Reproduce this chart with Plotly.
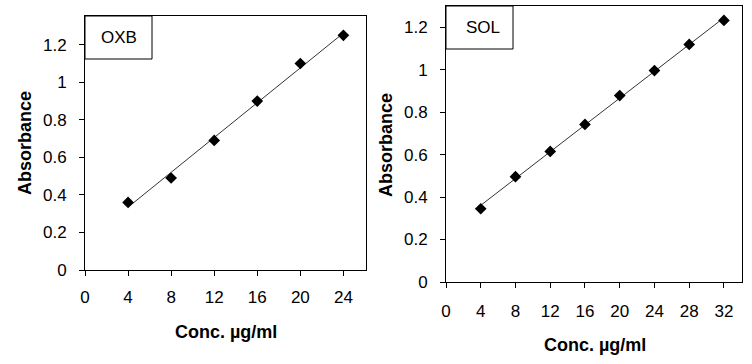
import numpy as np
import plotly.graph_objects as go

W, H = 752, 364

# ---- data ----
oxb_conc = [4, 8, 12, 16, 20, 24]
oxb_abs = [0.36, 0.49, 0.69, 0.90, 1.10, 1.25]
sol_conc = [4, 8, 12, 16, 20, 24, 28, 32]
sol_abs = [0.345, 0.496, 0.615, 0.742, 0.878, 0.996, 1.119, 1.232]

oxb_xticks = [0, 4, 8, 12, 16, 20, 24]
sol_xticks = [0, 4, 8, 12, 16, 20, 24, 28, 32]
oxb_yticks = [0, 0.2, 0.4, 0.6, 0.8, 1.0, 1.2]
sol_yticks = [0, 0.2, 0.4, 0.6, 0.8, 1.0, 1.2]
ytick_text = ["0", "0.2", "0.4", "0.6", "0.8", "1", "1.2"]

panel_names = ["OXB", "SOL"]
x_title = "Conc. µg/ml"
y_title = "Absorbance"

FONT = "Liberation Sans, Arial, sans-serif"

def px(x):
    return x / W

def py(y):
    return 1 - y / H

fig = go.Figure()

def add_panel(xs, ys, xa, ya):
    m, b = np.polyfit(xs, ys, 1)
    xl = [min(xs), max(xs)]
    fig.add_trace(go.Scatter(x=xl, y=[m * v + b for v in xl], mode="lines",
                             line=dict(color="#333333", width=1),
                             xaxis=xa, yaxis=ya, showlegend=False, hoverinfo="skip"))
    fig.add_trace(go.Scatter(x=xs, y=ys, mode="markers",
                             marker=dict(symbol="diamond", size=9, color="black"),
                             xaxis=xa, yaxis=ya, showlegend=False))

add_panel(oxb_conc, oxb_abs, "x", "y")
add_panel(sol_conc, sol_abs, "x2", "y2")

axis_common = dict(showline=True, linecolor="black", linewidth=1, mirror=True,
                   ticks="outside", ticklen=5, tickcolor="black", showgrid=False,
                   zeroline=False, automargin=False,
                   tickfont=dict(family=FONT, size=17, color="black"))

L = dict(x0=85, x1=366, y0=16, y1=270)
R = dict(x0=446, x1=742, y0=6, y1=282)

fig.update_layout(
    template="none",
    width=W, height=H, margin=dict(l=0, r=0, t=0, b=0),
    plot_bgcolor="white", paper_bgcolor="white",
    xaxis=dict(domain=[px(L["x0"]), px(L["x1"])], range=[0, 26.1],
               tickvals=oxb_xticks, ticklabelstandoff=7, anchor="y", **axis_common),
    yaxis=dict(domain=[py(L["y1"]), py(L["y0"])], range=[0, 1.353],
               tickvals=oxb_yticks, ticktext=ytick_text, ticklabelstandoff=9,
               anchor="x", **axis_common),
    xaxis2=dict(domain=[px(R["x0"]), px(R["x1"])], range=[0, 34.08],
                tickvals=sol_xticks, ticklabelstandoff=9, anchor="y2", **axis_common),
    yaxis2=dict(domain=[py(R["y1"]), py(R["y0"])], range=[0, 1.30],
                tickvals=sol_yticks, ticktext=ytick_text, ticklabelstandoff=9,
                anchor="x2", **axis_common),
)

# label boxes
fig.add_shape(type="rect", xref="paper", yref="paper",
              x0=px(85), x1=px(152), y0=py(59), y1=py(16),
              line=dict(color="black", width=1), fillcolor="white")
fig.add_shape(type="rect", xref="paper", yref="paper",
              x0=px(446), x1=px(513), y0=py(49), y1=py(6),
              line=dict(color="black", width=1), fillcolor="white")

ann = []
ann.append(dict(text=panel_names[0], x=px(119), y=py(38)))
ann.append(dict(text=panel_names[1], x=px(483), y=py(28)))
for a in ann:
    a.update(xref="paper", yref="paper", showarrow=False, xanchor="center", yanchor="middle",
             font=dict(family=FONT, size=17, color="black"))
titles = [
    dict(text="<b>%s</b>" % x_title, x=px(226), y=py(332), textangle=0),
    dict(text="<b>%s</b>" % x_title, x=px(595), y=py(345), textangle=0),
    dict(text="<b>%s</b>" % y_title, x=px(25), y=py(143), textangle=-90),
    dict(text="<b>%s</b>" % y_title, x=px(386), y=py(145), textangle=-90),
]
for t in titles:
    t.update(xref="paper", yref="paper", showarrow=False, xanchor="center", yanchor="middle",
             font=dict(family=FONT, size=18, color="black"))
fig.update_layout(annotations=ann + titles)

# remove the browser's default 8px body margin so the figure sits at the page origin
fig.write_html("out.html", config={"displayModeBar": False},
               post_script="document.body.style.margin='0';")
